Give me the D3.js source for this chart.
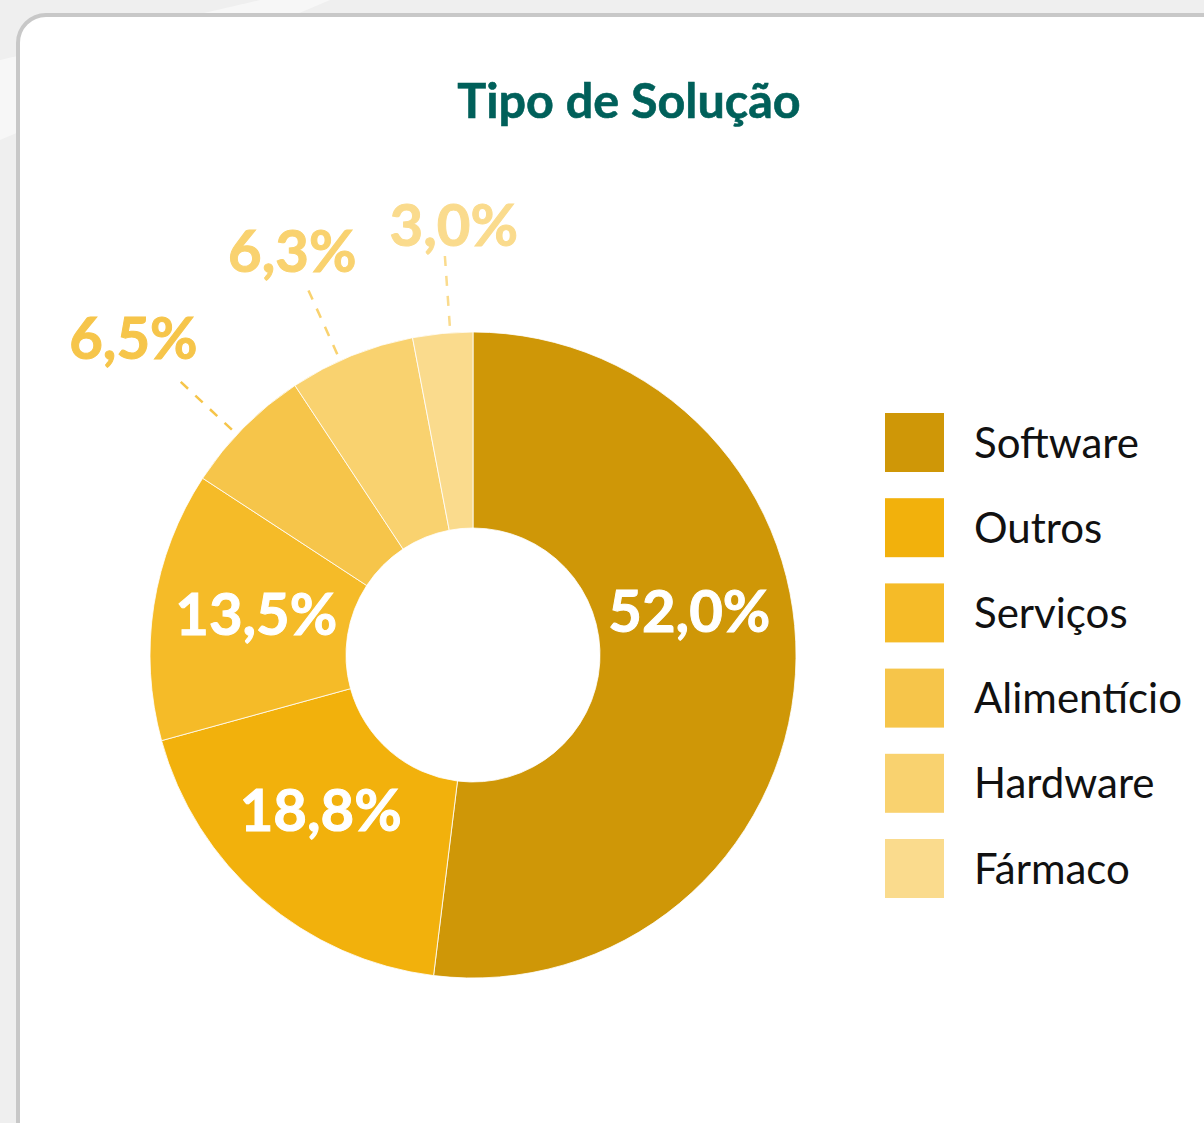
<!DOCTYPE html>
<html>
<head>
<meta charset="utf-8">
<script src="https://cdn.jsdelivr.net/npm/d3@7"></script>
<style>
  html, body { margin: 0; padding: 0; background: #efefef; }
  svg { display: block; }
</style>
</head>
<body>
<svg id="chart" width="1204" height="1123"></svg>
<script>
// data
const categories = ['Software', 'Outros', 'Serviços', 'Alimentício', 'Hardware', 'Fármaco'];
const shares = [52.0, 18.8, 13.5, 6.5, 6.3, 3.0];
const colors = ['#cf9707', '#f2b10c', '#f5bb28', '#f6c54a', '#f9d26f', '#fadb8d'];

var svg = d3.select('#chart'),
    width = 1204,
    height = 1123;

var fmt = (v) => d3.format('.1f')(v).replace('.', ',') + '%';

// faint background shapes + card
var bg = svg.append('g');
bg.append('path')
    .attr('d', 'M0,60 L260,0 L330,0 L0,140 Z')
    .attr('fill', '#f7f7f7');
bg.append('rect')
    .attr('x', 18).attr('y', 15)
    .attr('width', 1260).attr('height', 1160)
    .attr('rx', 28)
    .attr('fill', '#fff')
    .attr('stroke', '#c8c8c8')
    .attr('stroke-width', 4);

svg.append('text')
    .attr('x', 629).attr('y', 118)
    .attr('text-anchor', 'middle')
    .style('font-family', 'Lato')
    .style('font-weight', 700)
    .style('font-size', '48.5px')
    .style('fill', '#00605a')
    .style('stroke', '#00605a')
    .style('stroke-width', 0.6)
    .text('Tipo de Solução');

var cx = 473, cy = 655, outerR = 323, innerR = 127;

var color = d3.scaleOrdinal().domain(categories).range(colors);

var pie = d3.pie().sort(null).value((d) => d.value);
var data = categories.map((c, i) => ({ key: c, value: shares[i] }));
var arcs = pie(data);

var arc = d3.arc().innerRadius(innerR).outerRadius(outerR);

var g = svg.append('g')
    .attr('transform', 'translate(' + cx + ',' + cy + ')');

g.selectAll('.slice')
    .data(arcs)
    .enter().append('path')
    .attr('class', 'slice')
    .attr('d', arc)
    .style('fill', (d) => color(d.data.key))
    .style('stroke', '#fff')
    .style('stroke-width', 0.8);

var mid = (d) => (d.startAngle + d.endAngle) / 2;
var polar = (a, r) => [r * Math.sin(a), -r * Math.cos(a)];

// big slices get labels inside, small ones outside with a dashed leader
var inside = arcs.filter((d) => d.data.value >= 10);
var outside = arcs.filter((d) => d.data.value < 10);
var deg = Math.PI / 180;
var nudge = { Software: -14 * deg, Outros: 3 * deg, 'Serviços': 1 * deg };

g.selectAll('.in-label')
    .data(inside)
    .enter().append('text')
    .attr('class', 'in-label')
    .attr('transform', (d) => {
        var p = polar(mid(d) + (nudge[d.data.key] || 0), 220);
        return 'translate(' + p[0] + ',' + p[1] + ')';
    })
    .attr('text-anchor', 'middle')
    .attr('dy', '0.3em')
    .style('font-family', 'Lato')
    .style('font-weight', 700)
    .style('font-size', '58px')
    .style('fill', '#fff')
    .style('stroke', '#fff')
    .style('stroke-width', 1)
    .text((d) => fmt(d.data.value));

// outside label layout
var labelPos = (d) => {
    var a = mid(d), s = Math.sin(a), p = polar(a, 403);
    return [p[0] + 40 + 241 * s + 153 * s * s, p[1] - 28 + 6 * s];
};
var leaderEnd = (d) => {
    var s = Math.sin(mid(d)), l = labelPos(d);
    return [l[0] - 16.5 - 80 * s, l[1] + 29 - 11 * s];
};
var leaderStart = (d) => {
    var e = leaderEnd(d);
    return polar(Math.atan2(e[0], -e[1]), 330);
};

g.selectAll('.leader')
    .data(outside)
    .enter().append('line')
    .attr('class', 'leader')
    .attr('x1', (d) => leaderStart(d)[0])
    .attr('y1', (d) => leaderStart(d)[1])
    .attr('x2', (d) => leaderEnd(d)[0])
    .attr('y2', (d) => leaderEnd(d)[1])
    .style('stroke', (d) => color(d.data.key))
    .style('stroke-width', 2.5)
    .style('stroke-dasharray', '10,10');

g.selectAll('.out-label')
    .data(outside)
    .enter().append('text')
    .attr('class', 'out-label')
    .attr('transform', (d) => 'translate(' + labelPos(d) + ')')
    .attr('text-anchor', 'middle')
    .attr('dy', '0.36em')
    .style('font-family', 'Lato')
    .style('font-weight', 700)
    .style('font-size', '58px')
    .style('fill', (d) => color(d.data.key))
    .style('stroke', (d) => color(d.data.key))
    .style('stroke-width', 1)
    .text((d) => fmt(d.data.value));

// legend
var legend = svg.append('g')
    .attr('transform', 'translate(885,413)');

var item = legend.selectAll('.item')
    .data(categories)
    .enter().append('g')
    .attr('class', 'item')
    .attr('transform', (d, i) => 'translate(0,' + (i * 85.2) + ')');

item.append('rect')
    .attr('width', 59).attr('height', 59)
    .style('fill', (d) => color(d));

item.append('text')
    .attr('x', 89).attr('y', 29.5)
    .attr('dy', '0.36em')
    .style('font-family', 'Lato')
    .style('font-size', '42px')
    .style('fill', '#111')
    .text((d) => d);
</script>
</body>
</html>
